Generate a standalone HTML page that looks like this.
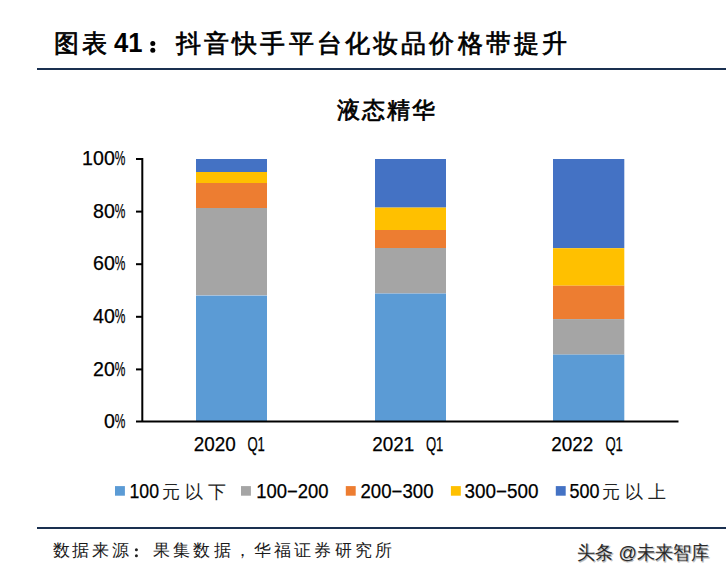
<!DOCTYPE html>
<html><head><meta charset="utf-8">
<style>
html,body{margin:0;padding:0;background:#fff;width:726px;height:578px;overflow:hidden}
svg{position:absolute;left:0;top:0;display:block}
.s{font-family:"Liberation Sans",sans-serif}
.f{font-family:"Liberation Serif",serif}
</style></head><body>
<svg width="726" height="578" viewBox="0 0 726 578">
<rect x="0" y="0" width="726" height="578" fill="#fff"/>
<!-- title -->
<text class="f" x="53.5" y="51.5" font-size="25" fill="#000" stroke="#000" stroke-width="0.7" textLength="53" lengthAdjust="spacing">图表</text>
<text class="s" x="114" y="52" font-size="27" font-weight="bold" fill="#000" textLength="28.5" lengthAdjust="spacingAndGlyphs">41</text>
<circle cx="152.8" cy="43.5" r="2.5" fill="#000"/><circle cx="152.8" cy="50.2" r="2.5" fill="#000"/>
<text class="f" x="176" y="51.6" font-size="25" fill="#000" stroke="#000" stroke-width="0.7" textLength="391" lengthAdjust="spacing">抖音快手平台化妆品价格带提升</text>
<rect x="37" y="68" width="689" height="2" fill="#1a3050"/>
<!-- subtitle -->
<text class="f" x="336.5" y="117.5" font-size="22.5" fill="#000" stroke="#000" stroke-width="0.7" textLength="98.5" lengthAdjust="spacing">液态精华</text>
<!-- y axis labels -->
<g class="s" font-size="19.6" fill="#000" stroke="#000" stroke-width="0.25">
<text x="114.8" y="165.2" text-anchor="end">100</text><text x="114.8" y="165.2" textLength="10.6" lengthAdjust="spacingAndGlyphs">%</text>
<text x="114.8" y="217.8" text-anchor="end">80</text><text x="114.8" y="217.8" textLength="10.6" lengthAdjust="spacingAndGlyphs">%</text>
<text x="114.8" y="270.4" text-anchor="end">60</text><text x="114.8" y="270.4" textLength="10.6" lengthAdjust="spacingAndGlyphs">%</text>
<text x="114.8" y="323.0" text-anchor="end">40</text><text x="114.8" y="323.0" textLength="10.6" lengthAdjust="spacingAndGlyphs">%</text>
<text x="114.8" y="375.6" text-anchor="end">20</text><text x="114.8" y="375.6" textLength="10.6" lengthAdjust="spacingAndGlyphs">%</text>
<text x="114.8" y="428.2" text-anchor="end">0</text><text x="114.8" y="428.2" textLength="10.6" lengthAdjust="spacingAndGlyphs">%</text>
</g>
<!-- bars -->
<g>
<rect x="196" y="159" width="71" height="13" fill="#4472c4"/>
<rect x="196" y="172" width="71" height="11" fill="#ffc000"/>
<rect x="196" y="183" width="71" height="25" fill="#ed7d31"/>
<rect x="196" y="208" width="71" height="87.5" fill="#a5a5a5"/>
<rect x="196" y="295.5" width="71" height="126" fill="#5b9bd5"/>
<rect x="196" y="295" width="71" height="1" fill="#a8c2dc"/>

<rect x="375" y="159" width="71" height="48.6" fill="#4472c4"/>
<rect x="375" y="207.6" width="71" height="22.4" fill="#ffc000"/>
<rect x="375" y="230" width="71" height="18" fill="#ed7d31"/>
<rect x="375" y="248" width="71" height="45.5" fill="#a5a5a5"/>
<rect x="375" y="293.5" width="71" height="128" fill="#5b9bd5"/>
<rect x="375" y="293" width="71" height="1" fill="#9cb9d6"/>

<rect x="553" y="159" width="71.3" height="89.2" fill="#4472c4"/>
<rect x="553" y="248.2" width="71.3" height="37.5" fill="#ffc000"/>
<rect x="553" y="285.7" width="71.3" height="33.4" fill="#ed7d31"/>
<rect x="553" y="319.1" width="71.3" height="35.5" fill="#a5a5a5"/>
<rect x="553" y="354.6" width="71.3" height="66.9" fill="#5b9bd5"/>
</g>
<!-- axes -->
<rect x="141.3" y="158" width="2" height="264" fill="#000"/>
<rect x="136" y="420.5" width="542.5" height="2" fill="#000"/>
<rect x="136" y="158" width="6" height="2" fill="#000"/>
<rect x="136" y="210.6" width="6" height="2" fill="#000"/>
<rect x="136" y="263.2" width="6" height="2" fill="#000"/>
<rect x="136" y="315.8" width="6" height="2" fill="#000"/>
<rect x="136" y="368.4" width="6" height="2" fill="#000"/>
<!-- x labels -->
<g class="s" font-size="20.8" fill="#000" stroke="#000" stroke-width="0.25">
<text x="193.8" y="451.2" textLength="42" lengthAdjust="spacingAndGlyphs">2020</text><text x="247.4" y="451.2" textLength="17.5" lengthAdjust="spacingAndGlyphs">Q1</text>
<text x="372.3" y="451.2" textLength="42" lengthAdjust="spacingAndGlyphs">2021</text><text x="425.9" y="451.2" textLength="17.5" lengthAdjust="spacingAndGlyphs">Q1</text>
<text x="551.2" y="451.2" textLength="42" lengthAdjust="spacingAndGlyphs">2022</text><text x="605.4" y="451.2" textLength="17.5" lengthAdjust="spacingAndGlyphs">Q1</text>
</g>
<!-- legend -->
<g class="s" font-size="19.6" fill="#000" stroke="#000" stroke-width="0.25">
<rect x="115.0" y="486.1" width="9.9" height="9.6" fill="#5b9bd5" stroke="none"/>
<text x="129.5" y="498.1" textLength="29.5" lengthAdjust="spacingAndGlyphs">100</text>
<text x="161.5" y="498.4" font-size="18.3" textLength="64" lengthAdjust="spacing" stroke="none" fill="#222">元以下</text>
<rect x="241.0" y="486.1" width="9.9" height="9.6" fill="#a5a5a5" stroke="none"/>
<text x="256.3" y="498.1" textLength="72.3" lengthAdjust="spacingAndGlyphs">100−200</text>
<rect x="345.8" y="486.1" width="9.9" height="9.6" fill="#ed7d31" stroke="none"/>
<text x="360.5" y="498.1" textLength="73" lengthAdjust="spacingAndGlyphs">200−300</text>
<rect x="450.9" y="486.1" width="9.9" height="9.6" fill="#ffc000" stroke="none"/>
<text x="464.5" y="498.1" textLength="74" lengthAdjust="spacingAndGlyphs">300−500</text>
<rect x="555.8" y="486.1" width="9.9" height="9.6" fill="#4472c4" stroke="none"/>
<text x="569.6" y="498.1" textLength="30" lengthAdjust="spacingAndGlyphs">500</text>
<text x="601.5" y="498.4" font-size="18.3" textLength="64" lengthAdjust="spacing" stroke="none" fill="#222">元以上</text>
</g>
<!-- footer -->
<rect x="37" y="527" width="689" height="2" fill="#1a3050"/>
<g class="f" font-size="17" fill="#1a1a1a">
<text x="52.5" y="555.5" textLength="76.5" lengthAdjust="spacing">数据来源</text>
<circle cx="136.4" cy="549.8" r="1.5" fill="#222"/><circle cx="136.4" cy="555.7" r="1.5" fill="#222"/>
<text x="153" y="555.5" textLength="239" lengthAdjust="spacing">果集数据，华福证券研究所</text>
</g>
<text class="s" x="577.8" y="560" font-size="19" fill="#b0b0b0" textLength="132.5" lengthAdjust="spacingAndGlyphs" stroke="#c8c8c8" stroke-width="0.5">头条 @未来智库</text>
<text class="s" x="577" y="559.2" font-size="19" fill="#2a2a2a" textLength="132.5" lengthAdjust="spacingAndGlyphs">头条 @未来智库</text>
</svg>
</body></html>
